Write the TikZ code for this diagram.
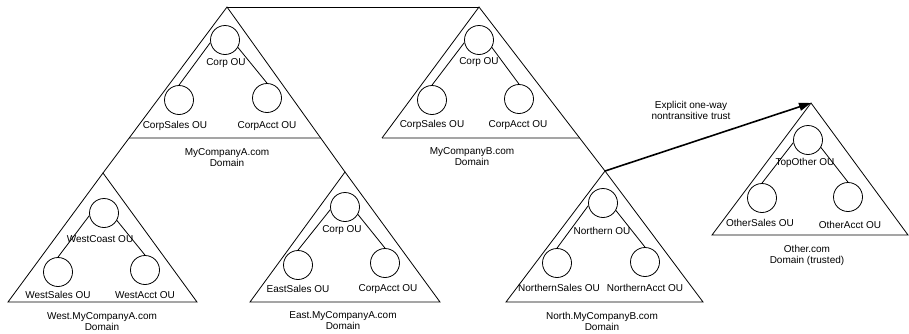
\documentclass[tikz,border=0pt]{standalone}
\usepackage{fontspec}
\setmainfont{Liberation Sans}
\usepackage{tikz}
\usetikzlibrary{arrows.meta}

\begin{document}
\begin{tikzpicture}[
        x=1bp, y=-1bp,
        every node/.style={font=\fontsize{10bp}{11bp}\selectfont},
        ou/.style={circle, draw, line width=0.8bp, minimum size=29bp, inner sep=0pt},
        oulabel/.style={inner sep=1pt},
        domlabel/.style={align=center, inner sep=1pt},
        dom/.style={line width=0.8bp},
        link/.style={line width=0.8bp},
        trust/.style={-{Triangle[length=12bp, width=8bp]}, line width=1.6bp}
    ]
    \useasboundingbox (0,0) rectangle (909,333);
%
    % Apexes of the domain trees
    \coordinate (aapex) at (227,7);
    \coordinate (bapex) at (479,7);
    \coordinate (wapex) at (103,173);
    \coordinate (eapex) at (345,172);
    \coordinate (napex) at (605,171);
    \coordinate (oapex) at (811,103);
    \coordinate (lvla) at (0,138);
    \coordinate (lvlb) at (909,138);
%
    % Domain outlines
    \draw[dom] (wapex) -- (aapex) -- (eapex);
    \draw[dom] (aapex) -- (bapex);
    \draw[dom] (382,138) -- (bapex) -- (napex);
    \draw[dom] (intersection of aapex--wapex and lvla--lvlb) -- (intersection of aapex--eapex and lvla--lvlb);
    \draw[dom] (382,138) -- (intersection of bapex--napex and lvla--lvlb);
    \draw[dom] (wapex) -- (8,302) -- (197,302) -- cycle;
    \draw[dom] (eapex) -- (250,302) -- (440,302) -- cycle;
    \draw[dom] (napex) -- (506,302) -- (703,302) -- cycle;
    \draw[dom] (oapex) -- (712,235) -- (908,235) -- cycle;
%
    % MyCompanyA.com
    \node[ou] (acorp) at (225,40) {};
    \node[oulabel] (acorptxt) at (226,63) {Corp OU};
    \node[ou] (asales) at (179,100) {};
    \node[oulabel] (asalestxt) at (175,126) {CorpSales OU};
    \node[ou] (aacct) at (267,98) {};
    \node[oulabel] (aaccttxt) at (267,126) {CorpAcct OU};
    \node[domlabel] (adom) at (227,157.5) {MyCompanyA.com\\Domain};
    \draw[link] (acorp.190) -- (asales.north);
    \draw[link] (acorp.-30) -- (aacct.north);
%
    % MyCompanyB.com
    \node[ou] (bcorp) at (479,40) {};
    \node[oulabel] (bcorptxt) at (479,62) {Corp OU};
    \node[ou] (bsales) at (432,100) {};
    \node[oulabel] (bsalestxt) at (432,125) {CorpSales OU};
    \node[ou] (bacct) at (519,99) {};
    \node[oulabel] (baccttxt) at (518,125) {CorpAcct OU};
    \node[domlabel] (bdom) at (472,157) {MyCompanyB.com\\Domain};
    \draw[link] (bcorp.190) -- (bsales.north);
    \draw[link] (bcorp.-30) -- (bacct.north);
%
    % West.MyCompanyA.com
    \node[ou] (wcoast) at (104,213) {};
    \node[oulabel] (wcoasttxt) at (100,239) {WestCoast OU};
    \node[ou] (wsales) at (58,272) {};
    \node[oulabel] (wsalestxt) at (58,295) {WestSales OU};
    \node[ou] (wacct) at (145,270) {};
    \node[oulabel] (waccttxt) at (145,295) {WestAcct OU};
    \node[domlabel] (wdom) at (102,321.5) {West.MyCompanyA.com\\Domain};
    \draw[link] (wcoast.190) -- (wsales.north);
    \draw[link] (wcoast.-30) -- (wacct.north);
%
    % East.MyCompanyA.com
    \node[ou] (ecorp) at (345,207) {};
    \node[oulabel] (ecorptxt) at (342,230) {Corp OU};
    \node[ou] (esales) at (298,265) {};
    \node[oulabel] (esalestxt) at (298,289) {EastSales OU};
    \node[ou] (eacct) at (385,263) {};
    \node[oulabel] (eaccttxt) at (388,289) {CorpAcct OU};
    \node[domlabel] (edom) at (343,321) {East.MyCompanyA.com\\Domain};
    \draw[link] (ecorp.190) -- (esales.north);
    \draw[link] (ecorp.-30) -- (eacct.north);
%
    % North.MyCompanyB.com
    \node[ou] (ncorp) at (603,203) {};
    \node[oulabel] (ncorptxt) at (602,231) {Northern OU};
    \node[ou] (nsales) at (557,263) {};
    \node[oulabel] (nsalestxt) at (559,288) {NorthernSales OU};
    \node[ou] (nacct) at (645,262) {};
    \node[oulabel] (naccttxt) at (645,288) {NorthernAcct OU};
    \node[domlabel] (ndom) at (602,321) {North.MyCompanyB.com\\Domain};
    \draw[link] (ncorp.190) -- (nsales.north);
    \draw[link] (ncorp.-30) -- (nacct.north);
%
    % Other.com
    \node[ou] (ocorp) at (808,140) {};
    \node[oulabel] (ocorptxt) at (805,163) {TopOther OU};
    \node[ou] (osales) at (762,198) {};
    \node[oulabel] (osalestxt) at (760,223) {OtherSales OU};
    \node[ou] (oacct) at (848,197) {};
    \node[oulabel] (oaccttxt) at (850,225) {OtherAcct OU};
    \node[domlabel] (odom) at (807,255.5) {Other.com\\Domain (trusted)};
    \draw[link] (ocorp.190) -- (osales.north);
    \draw[link] (ocorp.-30) -- (oacct.north);
%
    % Trust
    \draw[trust] (napex) -- (oapex);
    \node[domlabel] (trusttxt) at (691,110) {Explicit one-way\\nontransitive trust};
%
\end{tikzpicture}
\end{document}
